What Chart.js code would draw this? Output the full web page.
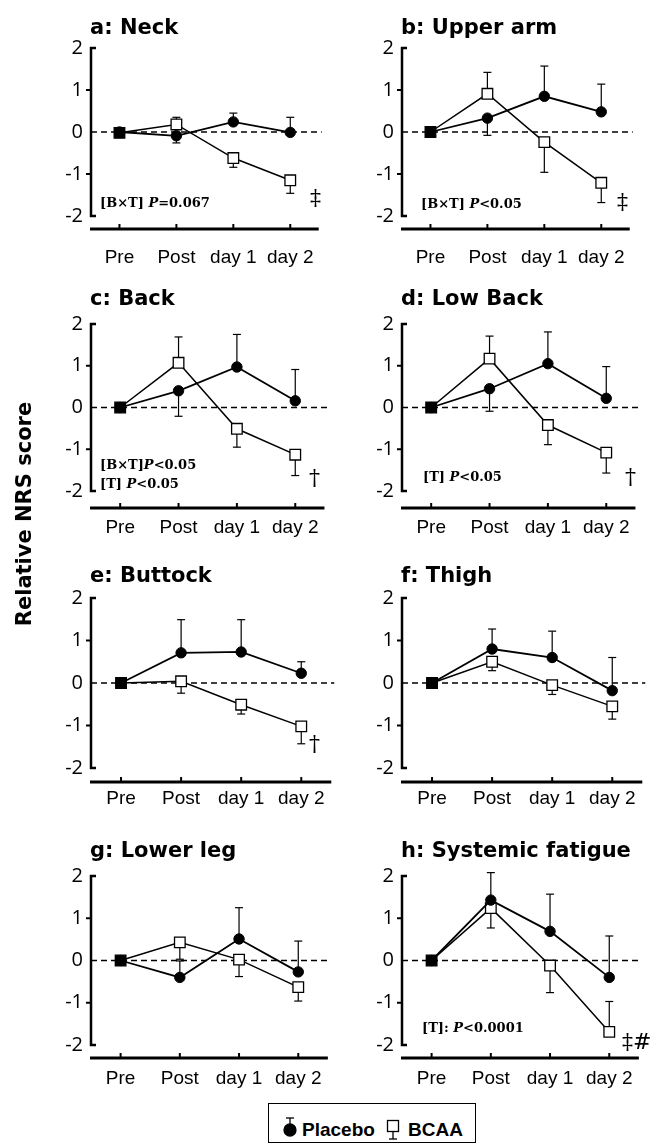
<!DOCTYPE html>
<html><head><meta charset="utf-8">
<script src="https://cdn.jsdelivr.net/npm/chart.js@4.4.1/dist/chart.umd.min.js"></script>
<style>
html,body{margin:0;padding:0;background:#fff;}
body{width:656px;height:1146px;position:relative;overflow:hidden;}
canvas{position:absolute;}
.t{position:absolute;font-family:"DejaVu Sans";font-weight:bold;font-size:21px;line-height:20px;white-space:nowrap;color:#000;}
.ann{position:absolute;font-family:"DejaVu Serif";font-weight:bold;font-size:13px;line-height:16px;white-space:nowrap;color:#000;}
.ann i{font-style:italic;}
.dag{position:absolute;font-family:"DejaVu Serif";font-size:22px;line-height:22px;white-space:nowrap;color:#000;}
.ytitle{position:absolute;width:300px;text-align:center;font-family:"DejaVu Sans";font-weight:bold;font-size:21px;line-height:24px;transform:rotate(-90deg);transform-origin:50% 50%;white-space:nowrap;}
.legbox{position:absolute;border:1px solid #000;background:#fff;}
.legtxt{position:absolute;font-family:"Liberation Sans";font-weight:bold;font-size:19px;line-height:20px;white-space:nowrap;}
</style></head><body>
<script>
// ---------- data ----------
const categories = ['Pre', 'Post', 'day 1', 'day 2'];
const yTicks = [-2, -1, 0, 1, 2];
const seriesNames = ['Placebo', 'BCAA'];
const panelTitles = ['a: Neck', 'b: Upper arm', 'c: Back', 'd: Low Back', 'e: Buttock', 'f: Thigh', 'g: Lower leg', 'h: Systemic fatigue'];

// means and error-bar end values (null = no bar)
const neckPlacebo      = [0, -0.09, 0.24, -0.01];
const neckPlaceboErr   = [null, -0.26, 0.45, 0.35];
const neckBCAA         = [-0.02, 0.18, -0.62, -1.15];
const neckBCAAErr      = [null, 0.35, -0.84, -1.46];

const upperArmPlacebo    = [0, 0.33, 0.85, 0.48];
const upperArmPlaceboErr = [null, -0.08, 1.57, 1.14];
const upperArmBCAA       = [0, 0.91, -0.24, -1.21];
const upperArmBCAAErr    = [null, 1.42, -0.96, -1.68];

const backPlacebo    = [0, 0.40, 0.97, 0.16];
const backPlaceboErr = [null, -0.21, 1.75, 0.91];
const backBCAA       = [0, 1.07, -0.51, -1.13];
const backBCAAErr    = [null, 1.69, -0.95, -1.63];

const lowBackPlacebo    = [0, 0.45, 1.05, 0.22];
const lowBackPlaceboErr = [null, -0.09, 1.81, 0.98];
const lowBackBCAA       = [0, 1.17, -0.42, -1.08];
const lowBackBCAAErr    = [null, 1.71, -0.89, -1.57];

const buttockPlacebo    = [0, 0.71, 0.73, 0.23];
const buttockPlaceboErr = [null, 1.49, 1.49, 0.50];
const buttockBCAA       = [0, 0.04, -0.51, -1.02];
const buttockBCAAErr    = [null, -0.24, -0.73, -1.43];

const thighPlacebo    = [0, 0.80, 0.60, -0.18];
const thighPlaceboErr = [null, 1.27, 1.22, 0.60];
const thighBCAA       = [0, 0.50, -0.05, -0.55];
const thighBCAAErr    = [null, 0.29, -0.27, -0.85];

const lowerLegPlacebo    = [0, -0.40, 0.51, -0.27];
const lowerLegPlaceboErr = [null, -0.01, 1.25, 0.46];
const lowerLegBCAA       = [0, 0.43, 0.02, -0.63];
const lowerLegBCAAErr    = [null, 0.03, -0.38, -0.96];

const fatiguePlacebo    = [0, 1.43, 0.69, -0.40];
const fatiguePlaceboErr = [null, 2.08, 1.57, 0.58];
const fatigueBCAA       = [0, 1.24, -0.12, -1.69];
const fatigueBCAAErr    = [null, 0.77, -0.76, -0.97];

const statNotes = [
  ['[B×T] <i>P</i>=0.067'], ['[B×T] <i>P</i>&lt;0.05'],
  ['[B×T]<i>P</i>&lt;0.05', '[T] <i>P</i>&lt;0.05'], ['[T] <i>P</i>&lt;0.05'],
  [], [], [], ['[T]: <i>P</i>&lt;0.0001']
];
const dayTwoMarks = ['‡', '‡', '†', '†', '†', '', '', '‡#'];

// ---------- layout ----------
const panelSeries = [
  [neckPlacebo, neckPlaceboErr, neckBCAA, neckBCAAErr],
  [upperArmPlacebo, upperArmPlaceboErr, upperArmBCAA, upperArmBCAAErr],
  [backPlacebo, backPlaceboErr, backBCAA, backBCAAErr],
  [lowBackPlacebo, lowBackPlaceboErr, lowBackBCAA, lowBackBCAAErr],
  [buttockPlacebo, buttockPlaceboErr, buttockBCAA, buttockBCAAErr],
  [thighPlacebo, thighPlaceboErr, thighBCAA, thighBCAAErr],
  [lowerLegPlacebo, lowerLegPlaceboErr, lowerLegBCAA, lowerLegBCAAErr],
  [fatiguePlacebo, fatiguePlaceboErr, fatigueBCAA, fatigueBCAAErr]
];
const cols = [{axisX: 91, rightX: 333}, {axisX: 402, rightX: 644}];
const rows = [
  {y2: 43,  ym2: 216,  xAxis: 229,  lab: 257, title: 34},
  {y2: 319, ym2: 491,  xAxis: 508,  lab: 527, title: 305},
  {y2: 593, ym2: 768,  xAxis: 782,  lab: 798, title: 582},
  {y2: 871, ym2: 1045, xAxis: 1058, lab: 1078, title: 857}
];
const noteLayout = [
  [{x: 100, y: 203}], [{x: 421, y: 204}],
  [{x: 100, y: 465}, {x: 100, y: 484}], [{x: 423, y: 477}],
  [], [], [], [{x: 422, y: 1028}]
];
const markLayout = [
  {x: 310, y: 187}, {x: 617, y: 191}, {x: 309, y: 467}, {x: 625, y: 466},
  {x: 309, y: 733}, null, null, {x: 622, y: 1031}
];

const PADL = 60, PADT = 15, XH = 62, PADR = 12;

const axesPlugin = {
  id: 'nrsAxes',
  beforeDatasetsDraw(chart, args, opts) {
    const ctx = chart.ctx, ca = chart.chartArea, x = chart.scales.x, y = chart.scales.y;
    const L = ca.left, R = ca.right;
    const seg = (a, b, c, d) => { ctx.beginPath(); ctx.moveTo(a, b); ctx.lineTo(c, d); ctx.stroke(); };
    ctx.save();
    ctx.strokeStyle = '#000';
    // dashed zero reference line
    const y0 = y.getPixelForValue(0);
    ctx.setLineDash([6, 4]); ctx.lineWidth = 1.5;
    seg(L, y0, R + 3, y0);
    ctx.setLineDash([]);
    // y axis with bracket ends
    const yt = y.getPixelForValue(yTicks[yTicks.length - 1]), yb = y.getPixelForValue(yTicks[0]);
    ctx.lineWidth = 2.5;
    ctx.beginPath(); ctx.moveTo(L + 5, yt); ctx.lineTo(L, yt); ctx.lineTo(L, yb); ctx.lineTo(L + 5, yb); ctx.stroke();
    ctx.lineWidth = 2;
    yTicks.slice(1, -1).forEach(v => { if (v !== 0) { const p = y.getPixelForValue(v); seg(L - 5, p, L, p); } });
    // x axis line with inward ticks
    const xa = ca.bottom + opts.gap;
    ctx.lineWidth = 2.8;
    seg(L - 1, xa, R, xa);
    ctx.lineWidth = 2;
    categories.forEach((c, i) => { const p = x.getPixelForValue(i); seg(p, xa - 5, p, xa); });
    // error bars
    ctx.lineWidth = 1.2;
    chart.data.datasets.forEach(ds => {
      (ds.errEnds || []).forEach((e, i) => {
        if (e === null || e === undefined) return;
        const px = x.getPixelForValue(i), p0 = y.getPixelForValue(ds.data[i]), p1 = y.getPixelForValue(e);
        seg(px, p0, px, p1);
        seg(px - 4, p1, px + 4, p1);
      });
    });
    ctx.restore();
  }
};

function addDiv(cls, html, left, top) {
  const d = document.createElement('div');
  d.className = cls; d.innerHTML = html;
  d.style.left = left + 'px'; d.style.top = top + 'px';
  document.body.appendChild(d);
  return d;
}

panelSeries.forEach((s, k) => {
  const col = cols[k % 2], row = rows[Math.floor(k / 2)];
  const plotW = col.rightX - col.axisX, plotH = row.ym2 - row.y2;
  const cv = document.createElement('canvas');
  cv.width = PADL + plotW + PADR; cv.height = PADT + plotH + XH;
  cv.style.left = (col.axisX - PADL) + 'px'; cv.style.top = (row.y2 - PADT) + 'px';
  document.body.appendChild(cv);
  new Chart(cv, {
    type: 'line',
    data: {
      labels: categories,
      datasets: [
        {label: seriesNames[0], data: s[0], errEnds: s[1], borderColor: '#000', borderWidth: 1.8,
         pointStyle: 'circle', pointRadius: 5.2, pointBackgroundColor: '#000', pointBorderColor: '#000',
         pointBorderWidth: 1, tension: 0, clip: false, order: 0},
        {label: seriesNames[1], data: s[2], errEnds: s[3], borderColor: '#000', borderWidth: 1.5,
         pointStyle: 'rect', pointRadius: 7.5, pointBackgroundColor: ['#000', '#fff', '#fff', '#fff'],
         pointBorderColor: '#000', pointBorderWidth: 1.3, tension: 0, clip: false, order: 1}
      ]
    },
    options: {
      responsive: false, animation: false, events: [],
      layout: {padding: {top: PADT, left: 0, right: PADR, bottom: 0}},
      plugins: {legend: {display: false}, tooltip: {enabled: false}, title: {display: false},
                nrsAxes: {gap: row.xAxis - row.ym2}},
      scales: {
        x: {type: 'category', offset: true, grid: {display: false, drawTicks: false}, border: {display: false},
            ticks: {color: '#000', font: {family: 'Liberation Sans', size: 19}, padding: row.lab - row.ym2 - 11,
                    maxRotation: 0, autoSkip: false},
            afterFit: sc => { sc.height = XH; }},
        y: {min: yTicks[0], max: yTicks[yTicks.length - 1], grid: {display: false, drawTicks: false}, border: {display: false},
            afterBuildTicks: sc => { sc.ticks = yTicks.map(v => ({value: v})); },
            ticks: {color: '#000', font: {family: 'Open Sans', size: 20}, padding: 8},
            afterFit: sc => { sc.width = PADL; }}
      }
    },
    plugins: [axesPlugin]
  });
  addDiv('t', panelTitles[k], col.axisX - 1, row.title - 17);
  statNotes[k].forEach((n, j) => { const p = noteLayout[k][j]; addDiv('ann', n, p.x, p.y - 8); });
  if (markLayout[k]) addDiv('dag', dayTwoMarks[k], markLayout[k].x, markLayout[k].y);
});

// y-axis title
addDiv('ytitle', 'Relative NRS score', 24 - 150, 514 - 12);

// legend
const box = addDiv('legbox', '', 268, 1103);
box.style.width = '206px'; box.style.height = '38px';
const svgNS = 'http://www.w3.org/2000/svg';
const svg = document.createElementNS(svgNS, 'svg');
svg.setAttribute('width', '656'); svg.setAttribute('height', '1146');
svg.style.position = 'absolute'; svg.style.left = '0'; svg.style.top = '0';
svg.innerHTML = '<g stroke="#000" stroke-width="1.3">' +
  '<line x1="290" y1="1118" x2="290" y2="1128"/><line x1="286" y1="1118" x2="294" y2="1118"/>' +
  '<circle cx="290" cy="1130" r="6" fill="#000"/>' +
  '<line x1="393" y1="1127" x2="393" y2="1139"/><line x1="389" y1="1139" x2="397" y2="1139"/>' +
  '<rect x="387.5" y="1120.5" width="11" height="11" fill="#fff"/></g>';
document.body.appendChild(svg);
addDiv('legtxt', seriesNames[0], 302, 1120);
addDiv('legtxt', seriesNames[1], 408, 1120);
</script>
</body></html>
